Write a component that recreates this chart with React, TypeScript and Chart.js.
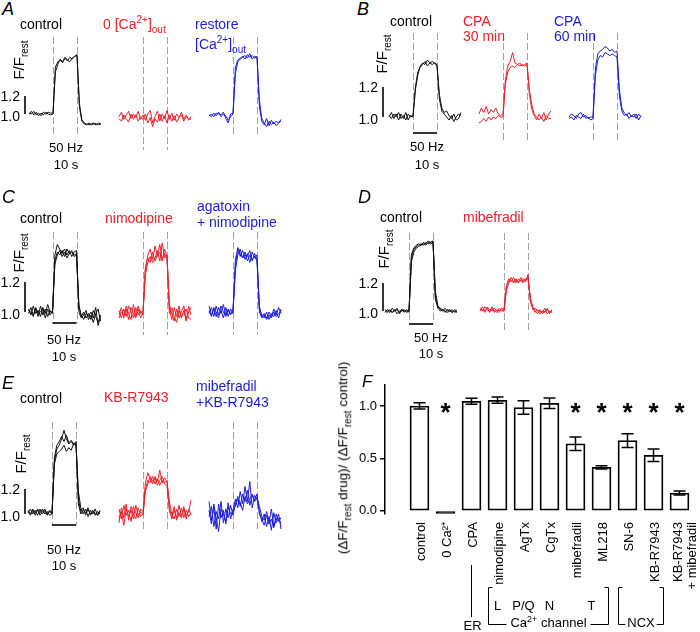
import React, { useEffect, useRef } from "react";
import { Chart, registerables } from "chart.js";

Chart.register(...registerables);

const FONT = 'Arial, "Liberation Sans", Helvetica, sans-serif';
const BLACK = "#111111";
const RED = "#e8202a";
const BLUE = "#1c1cd6";
const DASH_GRAY = "#a3a3a3";

// sample times (s) relative to the start of the 50 Hz, 10 s stimulus
const TIME = [-10, -9, -8, -7, -6, -5, -4, -3, -2, -1, 0, 1, 2, 3, 4, 5, 6, 7, 8, 9, 10, 11, 12, 13, 14, 15, 16, 17, 18, 19, 20];
const STIM_START = 0;
const STIM_END = 10;
const SCALE_BAR_LOW = 1.0;
const SCALE_BAR_HIGH = 1.2;

// ---------- Panel A ----------
const A_CONTROL = [
  [1.00, 1.03, 0.99, 1.02, 0.98, 1.01, 0.99, 1.02, 1.00, 0.99, 1.00, 1.52, 1.58, 1.60, 1.57, 1.62, 1.59, 1.63, 1.61, 1.64, 1.66, 1.08, 0.92, 0.89, 0.88, 0.90, 0.88, 0.89, 0.88, 0.90, 0.89],
  [1.01, 1.00, 1.03, 0.99, 1.01, 0.98, 1.02, 1.00, 1.02, 1.01, 1.01, 1.47, 1.55, 1.61, 1.58, 1.63, 1.60, 1.58, 1.62, 1.64, 1.65, 1.12, 0.94, 0.90, 0.89, 0.88, 0.89, 0.90, 0.89, 0.88, 0.89],
];
const A_ZERO_CA = [
  [0.97, 1.02, 0.94, 0.99, 1.03, 0.95, 1.00, 0.96, 1.03, 0.94, 0.99, 0.93, 1.00, 1.04, 0.90, 0.97, 1.03, 0.92, 1.00, 0.95, 1.04, 0.94, 1.01, 0.93, 1.00, 0.96, 1.02, 0.94, 0.99, 0.93, 0.97],
  [0.95, 0.92, 0.99, 0.95, 0.91, 1.00, 0.94, 0.99, 0.92, 0.97, 0.94, 1.00, 0.90, 0.96, 0.86, 0.95, 0.91, 1.00, 0.92, 0.98, 0.90, 0.99, 0.92, 0.98, 0.91, 0.96, 0.99, 0.92, 0.97, 0.95, 0.94],
];
const A_RESTORE = [
  [0.98, 1.00, 0.97, 1.01, 1.00, 0.99, 1.02, 0.95, 0.90, 1.00, 1.01, 1.52, 1.60, 1.62, 1.64, 1.61, 1.66, 1.63, 1.65, 1.62, 1.64, 1.08, 0.92, 0.88, 0.95, 0.87, 0.93, 0.89, 0.92, 0.90, 0.94],
  [0.99, 0.97, 1.01, 0.98, 1.02, 0.97, 1.00, 0.98, 0.93, 0.97, 1.00, 1.45, 1.58, 1.61, 1.63, 1.65, 1.62, 1.67, 1.61, 1.64, 1.63, 1.15, 0.95, 0.90, 0.86, 0.92, 0.88, 0.91, 0.87, 0.90, 0.92],
];

// ---------- Panel B ----------
const B_CONTROL = [
  [1.00, 1.03, 0.99, 1.02, 0.98, 1.02, 0.99, 1.03, 0.98, 1.01, 1.00, 1.18, 1.28, 1.34, 1.36, 1.35, 1.38, 1.36, 1.37, 1.36, 1.35, 1.12, 1.04, 1.02, 1.00, 0.98, 1.01, 0.97, 1.00, 1.02, 1.01],
  [1.01, 0.99, 1.02, 1.00, 1.03, 0.99, 1.01, 0.98, 1.02, 1.00, 1.01, 1.20, 1.30, 1.33, 1.35, 1.37, 1.34, 1.36, 1.35, 1.36, 1.34, 1.15, 1.06, 1.03, 1.04, 1.01, 0.99, 1.02, 0.98, 0.99, 1.03],
];
const B_CPA_30 = [
  [1.02, 1.06, 1.03, 1.07, 1.02, 1.05, 1.03, 1.06, 1.02, 1.01, 1.02, 1.25, 1.34, 1.37, 1.43, 1.36, 1.35, 1.36, 1.34, 1.35, 1.36, 1.15, 1.05, 1.01, 0.98, 1.02, 0.99, 1.03, 0.98, 1.02, 1.04],
  [0.96, 0.97, 0.99, 0.97, 1.00, 0.98, 1.00, 0.99, 1.01, 1.00, 1.00, 1.22, 1.30, 1.33, 1.34, 1.33, 1.35, 1.34, 1.35, 1.34, 1.35, 1.18, 1.08, 1.02, 1.00, 0.98, 1.00, 0.97, 1.01, 0.99, 0.99],
];
const B_CPA_60 = [
  [1.00, 1.02, 1.01, 0.99, 1.02, 1.03, 1.00, 1.01, 0.99, 1.00, 1.00, 1.32, 1.42, 1.44, 1.45, 1.47, 1.46, 1.44, 1.45, 1.43, 1.44, 1.18, 1.06, 1.03, 1.01, 1.03, 1.00, 1.02, 0.99, 1.02, 1.00],
  [0.99, 1.00, 0.98, 1.01, 1.00, 0.99, 1.02, 0.99, 1.00, 0.98, 0.99, 1.28, 1.38, 1.41, 1.40, 1.43, 1.42, 1.41, 1.42, 1.41, 1.40, 1.14, 1.04, 1.01, 1.02, 0.99, 1.01, 1.00, 1.02, 0.98, 1.01],
];

// ---------- Panel C ----------
const C_CONTROL = [
  [1.02, 0.98, 1.04, 0.99, 1.01, 0.97, 1.03, 0.99, 1.05, 1.00, 1.00, 1.34, 1.40, 1.38, 1.41, 1.37, 1.42, 1.39, 1.40, 1.38, 1.39, 1.05, 0.97, 1.00, 0.96, 0.99, 0.95, 1.01, 0.97, 0.93, 0.98],
  [0.99, 1.03, 0.98, 1.02, 0.97, 1.04, 0.98, 1.02, 0.97, 1.01, 0.99, 1.38, 1.45, 1.42, 1.39, 1.42, 1.38, 1.41, 1.37, 1.40, 1.41, 1.00, 0.96, 0.98, 1.01, 0.95, 0.98, 0.93, 0.99, 1.02, 0.94],
  [1.01, 1.00, 0.97, 1.03, 0.99, 1.00, 1.02, 0.96, 1.02, 0.98, 1.01, 1.32, 1.38, 1.41, 1.37, 1.40, 1.36, 1.39, 1.41, 1.37, 1.38, 1.03, 0.98, 0.95, 0.99, 0.97, 1.00, 0.96, 1.03, 0.91, 0.97],
];
const C_NIMODIPINE = [
  [0.98, 1.03, 0.96, 1.04, 0.99, 0.95, 1.05, 0.97, 1.02, 0.96, 1.00, 1.30, 1.36, 1.33, 1.40, 1.34, 1.38, 1.45, 1.35, 1.39, 1.36, 1.02, 0.95, 1.03, 0.97, 1.04, 0.96, 1.01, 0.94, 1.04, 0.98],
  [1.01, 0.96, 1.02, 0.97, 1.04, 1.00, 0.96, 1.03, 0.98, 1.01, 0.98, 1.28, 1.38, 1.42, 1.35, 1.44, 1.37, 1.40, 1.34, 1.42, 1.37, 1.05, 0.99, 0.94, 1.02, 0.96, 1.00, 1.04, 0.95, 1.00, 1.03],
  [0.96, 1.00, 0.98, 1.02, 0.95, 1.03, 0.99, 0.96, 1.04, 0.99, 1.01, 1.25, 1.33, 1.37, 1.33, 1.36, 1.41, 1.34, 1.46, 1.36, 1.38, 0.99, 1.03, 0.97, 0.93, 1.01, 0.97, 0.99, 1.02, 0.96, 0.95],
];
const C_AGATOXIN_NIMODIPINE = [
  [1.04, 0.98, 1.02, 0.97, 1.03, 0.99, 1.05, 0.98, 1.02, 0.99, 1.00, 1.35, 1.42, 1.39, 1.36, 1.40, 1.34, 1.38, 1.35, 1.37, 1.34, 1.04, 0.97, 0.99, 0.96, 1.00, 0.97, 1.02, 0.98, 1.03, 0.99],
  [0.99, 1.03, 0.97, 1.04, 0.98, 1.01, 0.96, 1.03, 0.97, 1.02, 0.99, 1.30, 1.43, 1.37, 1.41, 1.35, 1.39, 1.33, 1.40, 1.36, 1.38, 1.02, 0.98, 0.96, 1.00, 0.95, 0.99, 0.97, 1.01, 0.96, 1.02],
  [1.01, 0.97, 1.03, 1.00, 0.96, 1.04, 1.00, 0.97, 1.01, 0.98, 1.02, 1.28, 1.38, 1.42, 1.36, 1.38, 1.37, 1.41, 1.34, 1.39, 1.35, 1.00, 0.96, 0.98, 0.95, 0.98, 0.96, 1.00, 0.97, 0.99, 1.01],
];

// ---------- Panel D ----------
const D_CONTROL = [
  [1.00, 0.99, 1.01, 0.99, 1.01, 0.98, 1.00, 1.01, 1.00, 1.00, 1.00, 1.38, 1.44, 1.46, 1.47, 1.48, 1.47, 1.49, 1.48, 1.49, 1.50, 1.10, 1.02, 1.00, 1.01, 0.99, 1.01, 1.00, 0.99, 1.00, 0.99],
  [1.01, 1.00, 0.99, 1.02, 1.00, 1.01, 0.99, 1.00, 1.01, 0.99, 1.00, 1.35, 1.42, 1.45, 1.46, 1.47, 1.48, 1.47, 1.49, 1.48, 1.49, 1.14, 1.04, 1.01, 1.00, 1.02, 1.00, 1.01, 0.99, 1.01, 1.00],
  [0.99, 1.01, 1.00, 0.99, 1.00, 1.02, 0.98, 1.01, 0.99, 1.01, 0.99, 1.40, 1.45, 1.47, 1.48, 1.47, 1.49, 1.48, 1.50, 1.49, 1.50, 1.08, 1.03, 1.02, 1.01, 1.00, 0.99, 1.00, 1.01, 0.99, 1.00],
];
const D_MIBEFRADIL = [
  [1.02, 1.00, 1.03, 1.01, 1.00, 1.02, 0.99, 1.01, 1.00, 1.02, 1.01, 1.17, 1.22, 1.21, 1.24, 1.20, 1.23, 1.21, 1.22, 1.21, 1.26, 1.06, 1.02, 0.99, 1.01, 0.98, 1.00, 0.99, 1.02, 0.98, 1.01],
  [1.00, 1.03, 1.00, 1.02, 0.99, 1.03, 1.00, 0.99, 1.02, 1.00, 1.00, 1.15, 1.20, 1.24, 1.21, 1.23, 1.20, 1.24, 1.20, 1.23, 1.24, 1.08, 1.03, 1.00, 0.98, 1.01, 0.99, 1.02, 0.98, 1.00, 0.99],
  [1.01, 1.01, 0.99, 1.03, 1.01, 1.00, 1.02, 1.00, 0.99, 1.01, 1.00, 1.18, 1.23, 1.22, 1.20, 1.22, 1.21, 1.22, 1.23, 1.22, 1.23, 1.10, 1.01, 1.02, 1.00, 1.00, 0.98, 1.00, 1.01, 0.99, 1.00],
];

// ---------- Panel E ----------
const E_CONTROL = [
  [1.03, 1.00, 1.04, 0.99, 1.03, 1.01, 1.04, 1.00, 1.02, 0.99, 1.00, 1.42, 1.52, 1.55, 1.60, 1.67, 1.60, 1.56, 1.58, 1.55, 1.57, 1.12, 1.02, 1.05, 0.99, 1.04, 1.00, 1.03, 0.99, 1.02, 1.00],
  [1.01, 1.04, 1.00, 1.03, 0.99, 1.04, 1.00, 1.03, 0.99, 1.02, 1.01, 1.40, 1.48, 1.50, 1.52, 1.55, 1.50, 1.53, 1.51, 1.56, 1.55, 1.18, 1.05, 1.00, 1.04, 0.98, 1.03, 1.00, 1.04, 0.99, 1.02],
  [1.02, 0.99, 1.03, 1.01, 1.04, 0.99, 1.02, 1.04, 1.00, 1.03, 1.00, 1.45, 1.55, 1.58, 1.62, 1.58, 1.63, 1.57, 1.59, 1.56, 1.58, 1.08, 1.00, 1.03, 1.01, 1.05, 0.99, 1.02, 1.01, 0.99, 1.03],
];
const E_KB_R7943 = [
  [0.93, 1.05, 0.97, 1.08, 0.95, 1.06, 1.00, 0.96, 1.05, 0.98, 1.00, 1.20, 1.27, 1.25, 1.30, 1.24, 1.28, 1.23, 1.27, 1.24, 1.22, 1.05, 0.96, 1.03, 0.97, 1.07, 0.98, 1.04, 0.99, 1.02, 1.11],
  [1.04, 0.96, 1.07, 0.99, 1.03, 0.94, 1.06, 1.01, 0.97, 1.04, 1.02, 1.25, 1.33, 1.28, 1.24, 1.30, 1.26, 1.35, 1.25, 1.29, 1.26, 1.10, 1.00, 0.96, 1.04, 0.98, 1.05, 0.97, 1.03, 0.98, 1.01],
  [0.97, 1.02, 0.91, 1.04, 0.98, 1.03, 0.96, 1.07, 0.99, 1.02, 0.99, 1.18, 1.24, 1.30, 1.26, 1.29, 1.23, 1.27, 1.30, 1.25, 1.27, 1.02, 0.98, 1.06, 0.95, 1.01, 0.97, 1.06, 0.96, 1.04, 0.99],
];
const E_MIBEFRADIL_KB_R7943 = [
  [1.10, 0.95, 1.05, 0.88, 1.08, 0.97, 1.03, 0.92, 1.06, 1.00, 1.02, 1.12, 1.05, 1.18, 1.08, 1.22, 1.10, 1.26, 1.05, 1.15, 1.12, 1.02, 0.94, 1.00, 0.90, 0.98, 0.87, 1.01, 0.93, 0.97, 0.92],
  [0.98, 1.06, 0.90, 1.02, 0.96, 1.10, 0.93, 1.04, 0.97, 1.07, 0.99, 1.08, 1.14, 1.06, 1.16, 1.10, 1.19, 1.07, 1.15, 1.11, 1.16, 1.00, 0.96, 0.91, 0.99, 0.93, 1.04, 0.90, 0.95, 1.00, 0.88],
  [1.03, 0.92, 1.08, 0.97, 0.86, 1.04, 1.00, 0.94, 1.09, 0.96, 1.04, 1.06, 1.12, 1.09, 1.03, 1.14, 1.08, 1.12, 1.16, 1.10, 1.13, 1.06, 0.98, 0.95, 1.02, 0.92, 0.96, 0.89, 1.00, 0.94, 0.97],
];

// ---------- Panel F ----------
const F_CATEGORIES: string[][] = [
  ["control"], ["0 Ca²⁺"], ["CPA"], ["nimodipine"], ["AgTx"], ["CgTx"], ["mibefradil"], ["ML218"], ["SN-6"], ["KB-R7943"], ["KB-R7943", "+ mibefradil"],
];
const F_VALUES = [1.0, -0.025, 1.045, 1.055, 0.985, 1.025, 0.64, 0.415, 0.67, 0.53, 0.17];
const F_ERRORS = [0.03, 0, 0.028, 0.03, 0.065, 0.05, 0.065, 0.015, 0.065, 0.06, 0.02];
const F_SIGNIFICANT = [false, true, false, false, false, false, true, true, true, true, true];
const F_Y_TICKS = [0, 0.5, 1.0];
const F_SUBTYPES = [
  { label: "L", at: 3, shift: 0 },
  { label: "P/Q", at: 4, shift: 0 },
  { label: "N", at: 5, shift: 0 },
  { label: "T", at: 7, shift: -10 },
];

// ---------- layout ----------
const PX_PER_SECOND = 2.4;

type Group = {
  traces: number[][];
  color: string;
  stimX: number;
  base: number;
  k: number;
  top: number;
  bottom: number;
  dashTop: number;
  dashBottom: number;
  left?: number;
  scaleBarX?: number;
  timeBarY?: number;
};

const GROUPS: Group[] = [
  { traces: A_CONTROL, color: BLACK, stimX: 53, base: 114, k: 90, top: 30, bottom: 160, dashTop: 37, dashBottom: 135, left: 0, scaleBarX: 25 },
  { traces: A_ZERO_CA, color: RED, stimX: 143, base: 114, k: 90, top: 30, bottom: 160, dashTop: 37, dashBottom: 150 },
  { traces: A_RESTORE, color: BLUE, stimX: 233, base: 114, k: 90, top: 30, bottom: 160, dashTop: 37, dashBottom: 137 },

  { traces: B_CONTROL, color: BLACK, stimX: 413, base: 117, k: 150, top: 28, bottom: 150, dashTop: 33, dashBottom: 133, left: 350, scaleBarX: 383, timeBarY: 133 },
  { traces: B_CPA_30, color: RED, stimX: 503, base: 117, k: 150, top: 28, bottom: 150, dashTop: 33, dashBottom: 142 },
  { traces: B_CPA_60, color: BLUE, stimX: 593, base: 117, k: 150, top: 28, bottom: 150, dashTop: 33, dashBottom: 142 },

  { traces: C_CONTROL, color: BLACK, stimX: 52.5, base: 312, k: 150, top: 226, bottom: 342, dashTop: 232, dashBottom: 323, left: 0, scaleBarX: 25, timeBarY: 323 },
  { traces: C_NIMODIPINE, color: RED, stimX: 143, base: 312, k: 150, top: 226, bottom: 342, dashTop: 232, dashBottom: 335 },
  { traces: C_AGATOXIN_NIMODIPINE, color: BLUE, stimX: 233, base: 312, k: 150, top: 226, bottom: 342, dashTop: 232, dashBottom: 335 },

  { traces: D_CONTROL, color: BLACK, stimX: 409, base: 311, k: 140, top: 227, bottom: 340, dashTop: 233, dashBottom: 324, left: 350, scaleBarX: 383, timeBarY: 324 },
  { traces: D_MIBEFRADIL, color: RED, stimX: 504, base: 311, k: 140, top: 227, bottom: 340, dashTop: 233, dashBottom: 332 },

  { traces: E_CONTROL, color: BLACK, stimX: 52, base: 514, k: 125, top: 416, bottom: 545, dashTop: 422, dashBottom: 525, left: 0, scaleBarX: 25, timeBarY: 525 },
  { traces: E_KB_R7943, color: RED, stimX: 143, base: 514, k: 125, top: 416, bottom: 545, dashTop: 422, dashBottom: 530 },
  { traces: E_MIBEFRADIL_KB_R7943, color: BLUE, stimX: 233, base: 514, k: 125, top: 416, bottom: 545, dashTop: 422, dashBottom: 530 },
];

function TraceGroup({ g }: { g: Group }) {
  const ref = useRef<HTMLCanvasElement>(null);
  const left = g.left ?? Math.round(g.stimX - 30);
  const right = Math.round(g.stimX + 52);
  const w = right - left;
  const h = g.bottom - g.top;

  useEffect(() => {
    if (!ref.current) return;
    const xMin = (left - g.stimX) / PX_PER_SECOND;
    const xMax = (right - g.stimX) / PX_PER_SECOND;
    const yMax = 1 + (g.base - g.top) / g.k;
    const yMin = 1 - (g.bottom - g.base) / g.k;

    const overlay = {
      id: "traceOverlay",
      beforeDatasetsDraw(chart: any) {
        const { ctx, scales } = chart;
        const xs = scales.x;
        ctx.save();
        ctx.strokeStyle = DASH_GRAY;
        ctx.lineWidth = 1;
        ctx.setLineDash([7, 3]);
        [STIM_START, STIM_END].forEach((t) => {
          const px = Math.round(xs.getPixelForValue(t)) + 0.5;
          ctx.beginPath();
          ctx.moveTo(px, g.dashTop - g.top);
          ctx.lineTo(px, g.dashBottom - g.top);
          ctx.stroke();
        });
        ctx.restore();
      },
      afterDatasetsDraw(chart: any) {
        const { ctx, scales } = chart;
        const xs = scales.x;
        const ys = scales.y;
        ctx.save();
        ctx.strokeStyle = "#000";
        ctx.fillStyle = "#000";
        ctx.lineWidth = 1.6;
        if (g.scaleBarX !== undefined) {
          const bx = g.scaleBarX - left;
          const y0 = ys.getPixelForValue(SCALE_BAR_LOW);
          const y1 = ys.getPixelForValue(SCALE_BAR_HIGH);
          ctx.beginPath();
          ctx.moveTo(bx, y0);
          ctx.lineTo(bx, y1);
          ctx.stroke();
          ctx.font = `14px ${FONT}`;
          ctx.textAlign = "right";
          ctx.textBaseline = "middle";
          ctx.fillText(SCALE_BAR_HIGH.toFixed(1), bx - 5, y1 + 1);
          ctx.fillText(SCALE_BAR_LOW.toFixed(1), bx - 5, y0 + 3);
        }
        if (g.timeBarY !== undefined) {
          const ty = g.timeBarY - g.top;
          ctx.beginPath();
          ctx.moveTo(xs.getPixelForValue(STIM_START), ty);
          ctx.lineTo(xs.getPixelForValue(STIM_END), ty);
          ctx.stroke();
        }
        ctx.restore();
      },
    };

    const chart = new Chart(ref.current, {
      type: "line",
      data: {
        datasets: g.traces.map((tr) => ({
          data: tr.map((v, i) => ({ x: TIME[i], y: v })),
          borderColor: g.color,
          borderWidth: 1,
          pointRadius: 0,
          tension: 0,
          fill: false,
        })),
      },
      options: {
        animation: false,
        responsive: false,
        events: [],
        layout: { padding: 0 },
        plugins: { legend: { display: false }, tooltip: { enabled: false } },
        scales: {
          x: { type: "linear", display: false, offset: false, min: xMin, max: xMax },
          y: { type: "linear", display: false, min: yMin, max: yMax },
        },
      },
      plugins: [overlay],
    } as any);
    return () => chart.destroy();
  }, []);

  return (
    <canvas
      ref={ref}
      width={w}
      height={h}
      style={{ position: "absolute", left, top: g.top, width: w, height: h }}
    />
  );
}

// bar chart geometry
const F_CANVAS = { left: 350, top: 370, width: 350, height: 262 };
const F_AREA_LEFT = 385;
const F_AREA_RIGHT = 695;
const F_FIRST_CENTER = 419.5;
const F_PITCH = 26;

function BarPanel() {
  const ref = useRef<HTMLCanvasElement>(null);
  useEffect(() => {
    if (!ref.current) return;
    const xMin = (F_AREA_LEFT - F_FIRST_CENTER) / F_PITCH;
    const xMax = (F_AREA_RIGHT - F_FIRST_CENTER) / F_PITCH;
    const T = F_CANVAS.top;

    const extras = {
      id: "fExtras",
      afterDatasetsDraw(chart: any) {
        const { ctx, scales } = chart;
        const x = scales.x;
        const y = scales.y;
        ctx.save();
        ctx.strokeStyle = "#000";
        ctx.fillStyle = "#000";
        ctx.lineWidth = 1.5;
        F_VALUES.forEach((v, i) => {
          const e = F_ERRORS[i];
          if (!e) return;
          const px = x.getPixelForValue(i);
          const t = y.getPixelForValue(v + e);
          const b = y.getPixelForValue(v - e);
          ctx.beginPath();
          ctx.moveTo(px, t);
          ctx.lineTo(px, b);
          ctx.moveTo(px - 6, t);
          ctx.lineTo(px + 6, t);
          ctx.moveTo(px - 6, b);
          ctx.lineTo(px + 6, b);
          ctx.stroke();
        });
        ctx.font = `bold 26px ${FONT}`;
        ctx.textAlign = "center";
        ctx.textBaseline = "alphabetic";
        F_SIGNIFICANT.forEach((s, i) => {
          if (!s) return;
          ctx.fillText("*", x.getPixelForValue(i), y.getPixelForValue(1.0) + 15);
        });
        ctx.restore();
      },
      afterDraw(chart: any) {
        const { ctx, scales } = chart;
        const x = scales.x;
        ctx.save();
        ctx.strokeStyle = "#000";
        ctx.fillStyle = "#000";
        ctx.lineWidth = 1;

        // category labels, rotated, reading upward, ending just under the axis
        ctx.font = `13px ${FONT}`;
        ctx.textAlign = "right";
        ctx.textBaseline = "middle";
        const labelTop = 522 - T;
        F_CATEGORIES.forEach((lines, i) => {
          const px = x.getPixelForValue(i);
          ctx.save();
          ctx.translate(px, labelTop);
          ctx.rotate(-Math.PI / 2);
          if (lines.length === 1) {
            ctx.fillText(lines[0], 0, 1.5);
          } else {
            ctx.fillText(lines[0], 0, -1);
            ctx.fillText(lines[1], 0, 13);
          }
          ctx.restore();
        });

        ctx.textBaseline = "middle";
        ctx.textAlign = "center";

        // ER
        const erX = Math.round(x.getPixelForValue(2)) + 0.5;
        ctx.beginPath();
        ctx.moveTo(erX, 565 - T);
        ctx.lineTo(erX, 617 - T);
        ctx.stroke();
        ctx.fillText("ER", erX + 1, 626 - T);

        const top = 587 - T + 0.5;
        const bot = 624 - T + 0.5;

        // Ca2+ channel bracket
        const cl = Math.round(x.getPixelForValue(3) - 9.5) + 0.5;
        const cr = Math.round(x.getPixelForValue(7) + 6) + 0.5;
        const cc = (cl + cr) / 2;
        const big = `13px ${FONT}`;
        const small = `9px ${FONT}`;
        ctx.font = big;
        const wCa = ctx.measureText("Ca").width;
        const wCh = ctx.measureText(" channel").width;
        ctx.font = small;
        const wSup = ctx.measureText("2+").width;
        const tw = wCa + wSup + wCh;
        ctx.beginPath();
        ctx.moveTo(cl + 4, top);
        ctx.lineTo(cl, top);
        ctx.lineTo(cl, bot);
        ctx.lineTo(cc - tw / 2 - 4, bot);
        ctx.moveTo(cc + tw / 2 + 4, bot);
        ctx.lineTo(cr, bot);
        ctx.lineTo(cr, top);
        ctx.lineTo(cr - 4, top);
        ctx.stroke();
        ctx.textAlign = "left";
        let tx = cc - tw / 2;
        ctx.font = big;
        ctx.fillText("Ca", tx, bot - 1);
        tx += wCa;
        ctx.font = small;
        ctx.fillText("2+", tx, bot - 5);
        tx += wSup;
        ctx.font = big;
        ctx.fillText(" channel", tx, bot - 1);

        // subtype letters
        ctx.textAlign = "center";
        F_SUBTYPES.forEach((s) => {
          ctx.fillText(s.label, x.getPixelForValue(s.at) + s.shift, 606 - T);
        });

        // NCX bracket
        const nl = Math.round(x.getPixelForValue(8) - 10) + 0.5;
        const nr = Math.round(x.getPixelForValue(9) + 9) + 0.5;
        const nc = (nl + nr) / 2;
        const nw = ctx.measureText("NCX").width;
        ctx.beginPath();
        ctx.moveTo(nl + 4, top);
        ctx.lineTo(nl, top);
        ctx.lineTo(nl, bot);
        ctx.lineTo(nc - nw / 2 - 2, bot);
        ctx.moveTo(nc + nw / 2 + 2, bot);
        ctx.lineTo(nr, bot);
        ctx.lineTo(nr, top);
        ctx.lineTo(nr - 4, top);
        ctx.stroke();
        ctx.fillText("NCX", nc, bot - 1);
        ctx.restore();
      },
    };

    const chart = new Chart(ref.current, {
      type: "bar",
      data: {
        datasets: [
          {
            data: F_VALUES.map((v, i) => ({ x: i, y: v })),
            backgroundColor: (c: any) => (c.raw && c.raw.y < 0 ? "#000000" : "#ffffff"),
            borderColor: "#000000",
            borderWidth: 1.8,
            borderSkipped: false,
            barThickness: 19,
          },
        ],
      },
      options: {
        animation: false,
        responsive: false,
        events: [],
        layout: { padding: { left: 0, top: 15, right: 5, bottom: 118 } },
        plugins: { legend: { display: false }, tooltip: { enabled: false } },
        scales: {
          x: {
            type: "linear",
            min: xMin,
            max: xMax,
            offset: false,
            display: false,
          },
          y: {
            type: "linear",
            min: -0.03,
            max: 1.2,
            afterBuildTicks: (s: any) => {
              s.ticks = F_Y_TICKS.map((v) => ({ value: v }));
            },
            afterFit: (s: any) => {
              s.width = 35;
            },
            grid: { drawOnChartArea: false, drawTicks: true, tickLength: 5, color: "#000", lineWidth: 1.5 },
            border: { display: true, color: "#000", width: 1.5 },
            ticks: {
              color: "#000",
              padding: 3,
              font: { family: FONT, size: 13 },
              callback: (v: any) => Number(v).toFixed(1),
            },
          },
        },
      },
      plugins: [extras],
    } as any);
    return () => chart.destroy();
  }, []);

  return (
    <canvas
      ref={ref}
      width={F_CANVAS.width}
      height={F_CANVAS.height}
      style={{ position: "absolute", left: F_CANVAS.left, top: F_CANVAS.top, width: F_CANVAS.width, height: F_CANVAS.height }}
    />
  );
}

const SUP: React.CSSProperties = { fontSize: "10px", verticalAlign: "super", lineHeight: 0 };
const SUB: React.CSSProperties = { fontSize: "10px", verticalAlign: "sub", lineHeight: 0 };

function T({ x, cy, color = "#000", size = 14, center = false, italic = false, children }: any) {
  return (
    <div
      style={{
        position: "absolute",
        left: x,
        top: cy - size * 0.55,
        transform: center ? "translateX(-50%)" : undefined,
        fontFamily: FONT,
        fontSize: size,
        lineHeight: `${size}px`,
        fontStyle: italic ? "italic" : "normal",
        color,
        whiteSpace: "nowrap",
      }}
    >
      {children}
    </div>
  );
}

function VLabel({ cx, cy, size = 15, children }: any) {
  return (
    <div
      style={{
        position: "absolute",
        left: cx,
        top: cy,
        transform: "translate(-50%, -50%) rotate(-90deg)",
        fontFamily: FONT,
        fontSize: size,
        lineHeight: `${size}px`,
        whiteSpace: "nowrap",
        color: "#000",
      }}
    >
      {children}
    </div>
  );
}

const FRest = () => (
  <>
    F/F<sub style={SUB}>rest</sub>
  </>
);
const CaOut = () => (
  <>
    [Ca<sup style={SUP}>2+</sup>]<sub style={SUB}>out</sub>
  </>
);

export default function App() {
  return (
    <div style={{ position: "absolute", left: 0, top: 0, width: 700, height: 632, background: "#fff", overflow: "hidden" }}>
      {GROUPS.map((g, i) => (
        <TraceGroup key={i} g={g} />
      ))}
      <BarPanel />

      {/* Panel A */}
      <T x={2} cy={10} size={18} italic>A</T>
      <T x={20} cy={25}>control</T>
      <T x={103} cy={25} color={RED}>0 <CaOut /></T>
      <T x={195} cy={25} color={BLUE}>restore</T>
      <T x={195} cy={45} color={BLUE}><CaOut /></T>
      <VLabel cx={18} cy={60}><FRest /></VLabel>
      <T x={66} cy={148} size={13} center>50 Hz</T>
      <T x={66} cy={165} size={13} center>10 s</T>

      {/* Panel B */}
      <T x={357} cy={10} size={18} italic>B</T>
      <T x={390} cy={22}>control</T>
      <T x={463} cy={22} color={RED}>CPA</T>
      <T x={463} cy={37} color={RED}>30 min</T>
      <T x={554} cy={22} color={BLUE}>CPA</T>
      <T x={554} cy={37} color={BLUE}>60 min</T>
      <VLabel cx={381} cy={54}><FRest /></VLabel>
      <T x={427} cy={147} size={13} center>50 Hz</T>
      <T x={427} cy={165} size={13} center>10 s</T>

      {/* Panel C */}
      <T x={2} cy={198} size={18} italic>C</T>
      <T x={20} cy={219}>control</T>
      <T x={105} cy={219} color={RED}>nimodipine</T>
      <T x={197} cy={207} color={BLUE}>agatoxin</T>
      <T x={197} cy={223} color={BLUE}>+ nimodipine</T>
      <VLabel cx={18} cy={253}><FRest /></VLabel>
      <T x={64} cy={340} size={13} center>50 Hz</T>
      <T x={64} cy={357} size={13} center>10 s</T>

      {/* Panel D */}
      <T x={358} cy={198} size={18} italic>D</T>
      <T x={380} cy={218}>control</T>
      <T x={463} cy={218} color={RED}>mibefradil</T>
      <VLabel cx={383} cy={249}><FRest /></VLabel>
      <T x={431} cy={338} size={13} center>50 Hz</T>
      <T x={431} cy={354} size={13} center>10 s</T>

      {/* Panel E */}
      <T x={2} cy={384} size={18} italic>E</T>
      <T x={20} cy={399}>control</T>
      <T x={104} cy={398} color={RED}>KB-R7943</T>
      <T x={196} cy={387} color={BLUE}>mibefradil</T>
      <T x={196} cy={403} color={BLUE}>+KB-R7943</T>
      <VLabel cx={20} cy={454}><FRest /></VLabel>
      <T x={64} cy={550} size={13} center>50 Hz</T>
      <T x={64} cy={566} size={13} center>10 s</T>

      {/* Panel F */}
      <T x={362} cy={382} size={17} italic>F</T>
      <VLabel cx={343} cy={458} size={13.5}>
        (ΔF/F<sub style={SUB}>rest</sub> drug)/ (ΔF/F<sub style={SUB}>rest</sub> control)
      </VLabel>
    </div>
  );
}
